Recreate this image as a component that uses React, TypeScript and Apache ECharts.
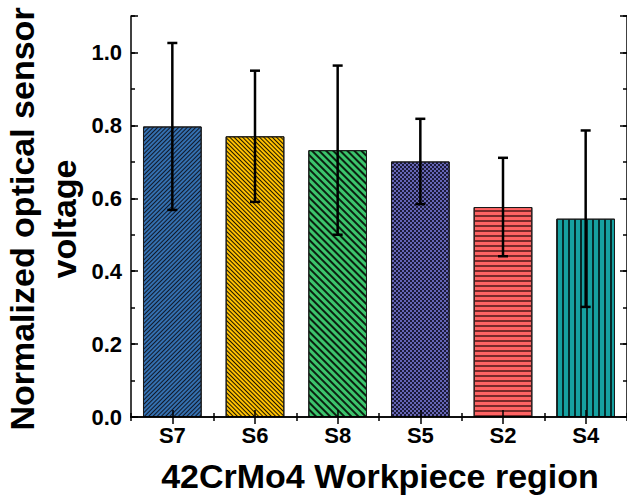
import React, { useEffect, useRef } from 'react';
import * as echarts from 'echarts';

const categories = ['S7', 'S6', 'S8', 'S5', 'S2', 'S4'];
const meanValues = [0.797, 0.770, 0.732, 0.701, 0.576, 0.544];
const errorValues = [0.229, 0.180, 0.232, 0.117, 0.135, 0.242];
const yTickLabels = ['0.0', '0.2', '0.4', '0.6', '0.8', '1.0'];
const xAxisTitle = '42CrMo4 Workpiece region';
const yAxisTitleLine1 = 'Normalized optical sensor';
const yAxisTitleLine2 = 'voltage';

const barColors = ['#3470b0', '#ffc000', '#3cc46c', '#6565b5', '#ff6363', '#16a0a0'];
const patternColors = ['#101828', '#1a1400', '#0a2010', '#1a1a38', '#7a2a2a', '#062a2a'];

const FONT = "'Liberation Sans', Arial, Helvetica, sans-serif";

function makeDecal(i: number): any {
  const color = patternColors[i];
  switch (i) {
    case 0:
      return { symbol: 'rect', dashArrayX: [1, 0], dashArrayY: [1, 2], rotation: -Math.PI / 4, color };
    case 1:
      return { symbol: 'rect', dashArrayX: [1, 0], dashArrayY: [1, 1.7], rotation: Math.PI / 4, color };
    case 2:
      return { symbol: 'rect', dashArrayX: [1, 0], dashArrayY: [1.2, 3], rotation: Math.PI / 4, color };
    case 3:
      return { symbol: 'rect', dashArrayX: [[2, 2], [0, 2, 2, 0]], dashArrayY: [2, 0], rotation: 0, color };
    case 4:
      return { symbol: 'rect', dashArrayX: [1, 0], dashArrayY: [1.4, 2.8], rotation: 0, color };
    default:
      return { symbol: 'rect', dashArrayX: [1, 0], dashArrayY: [1.3, 3.2], rotation: Math.PI / 2, color };
  }
}

export default function App() {
  const ref = useRef<HTMLDivElement>(null);
  useEffect(() => {
    document.body.style.margin = '0';
    const chart = echarts.init(ref.current!, undefined, { renderer: 'svg' });
    const axisLineStyle = { color: '#000', width: 1.5 };
    const tickStyle = { color: '#000', width: 1.5 };
    const gridRect = { left: 131, top: 16, width: 498, height: 401 };
    const labelFont = { color: '#000', fontFamily: FONT, fontSize: 22, fontWeight: 'bold' as const };

    const option: any = {
      animation: false,
      backgroundColor: '#fff',
      grid: { ...gridRect, containLabel: false },
      xAxis: [
        {
          type: 'category', data: categories, position: 'bottom', z: 5,
          axisLine: { show: true, lineStyle: axisLineStyle },
          axisTick: { show: true, alignWithLabel: true, inside: true, length: 7, lineStyle: tickStyle },
          axisLabel: { show: true, margin: 7, ...labelFont },
          splitLine: { show: false },
        },
        {
          type: 'category', data: categories, position: 'bottom', z: 5,
          axisLine: { show: false },
          axisTick: { show: true, inside: true, length: 4, lineStyle: tickStyle },
          axisLabel: { show: false },
          splitLine: { show: false },
        },
        {
          type: 'category', data: categories, position: 'top', z: 5,
          axisLine: { show: true, lineStyle: axisLineStyle },
          axisTick: { show: true, alignWithLabel: true, inside: true, length: 7, lineStyle: tickStyle },
          axisLabel: { show: false },
          splitLine: { show: false },
        },
        {
          type: 'category', data: categories, position: 'top', z: 5,
          axisLine: { show: false },
          axisTick: { show: true, inside: true, length: 4, lineStyle: tickStyle },
          axisLabel: { show: false },
          splitLine: { show: false },
        },
      ],
      yAxis: [
        {
          type: 'value', min: 0, max: 1.1, interval: 0.2, position: 'left', z: 5,
          axisLine: { show: true, lineStyle: axisLineStyle },
          axisTick: { show: true, inside: true, length: 7, lineStyle: tickStyle },
          axisLabel: {
            show: true, margin: 9, ...labelFont,
            formatter: (v: number) => {
              const s = v.toFixed(1);
              return yTickLabels.indexOf(s) >= 0 ? s : '';
            },
          },
          splitLine: { show: false },
        },
        {
          type: 'value', min: 0, max: 1.1, interval: 0.1, position: 'left', z: 5,
          axisLine: { show: false },
          axisTick: { show: true, inside: true, length: 4, lineStyle: tickStyle },
          axisLabel: { show: false },
          splitLine: { show: false },
        },
        {
          type: 'value', min: 0, max: 1.1, interval: 0.2, position: 'right', z: 5,
          axisLine: { show: true, lineStyle: axisLineStyle },
          axisTick: { show: true, inside: true, length: 7, lineStyle: tickStyle },
          axisLabel: { show: false },
          splitLine: { show: false },
        },
        {
          type: 'value', min: 0, max: 1.1, interval: 0.1, position: 'right', z: 5,
          axisLine: { show: false },
          axisTick: { show: true, inside: true, length: 4, lineStyle: tickStyle },
          axisLabel: { show: false },
          splitLine: { show: false },
        },
      ],
      series: [
        {
          type: 'bar', xAxisIndex: 0, yAxisIndex: 0, barWidth: '71%',
          data: meanValues.map((v, i) => ({
            value: v,
            itemStyle: { color: barColors[i], borderColor: '#1a1a1a', borderWidth: 1, decal: makeDecal(i) },
          })),
        },
        {
          type: 'custom', xAxisIndex: 0, yAxisIndex: 0, z: 10,
          data: meanValues.map((v, i) => [i, v - errorValues[i], v + errorValues[i]]),
          encode: { x: 0, y: [1, 2] },
          renderItem: (params: any, api: any) => {
            const x = api.value(0);
            const lo = api.coord([x, api.value(1)]);
            const hi = api.coord([x, api.value(2)]);
            const hw = 5;
            const style = { stroke: '#000', lineWidth: 2.5 };
            return {
              type: 'group',
              children: [
                { type: 'line', shape: { x1: lo[0], y1: lo[1], x2: hi[0], y2: hi[1] }, style },
                { type: 'line', shape: { x1: hi[0] - hw, y1: hi[1], x2: hi[0] + hw, y2: hi[1] }, style },
                { type: 'line', shape: { x1: lo[0] - hw, y1: lo[1], x2: lo[0] + hw, y2: lo[1] }, style },
              ],
            };
          },
        },
      ],
      graphic: [
        {
          type: 'text', x: 380, y: 476,
          style: { text: xAxisTitle, fill: '#000', font: `bold 34px ${FONT}`, textAlign: 'center', textVerticalAlign: 'middle' },
        },
        {
          type: 'text', x: 21.6, y: 219, rotation: Math.PI / 2,
          style: { text: yAxisTitleLine1, fill: '#000', font: `bold 34px ${FONT}`, textAlign: 'center', textVerticalAlign: 'middle' },
        },
        {
          type: 'text', x: 63.6, y: 219, rotation: Math.PI / 2,
          style: { text: yAxisTitleLine2, fill: '#000', font: `bold 34px ${FONT}`, textAlign: 'center', textVerticalAlign: 'middle' },
        },
      ],
    };
    chart.setOption(option);
    return () => chart.dispose();
  }, []);
  return <div ref={ref} style={{ width: 627, height: 496 }} />;
}
